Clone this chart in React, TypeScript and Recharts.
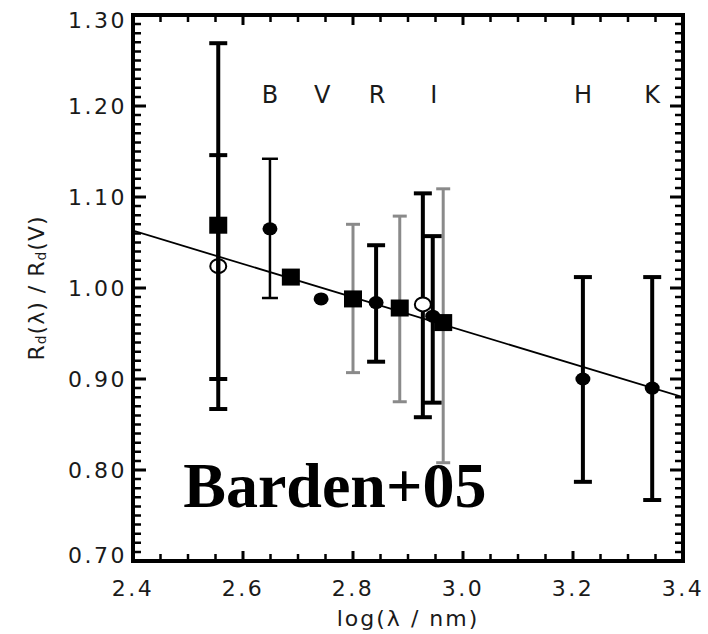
import React from 'react';
import { ComposedChart, Scatter, XAxis, YAxis, ErrorBar, ReferenceLine } from 'recharts';

// ---- data ------------------------------------------------------------------

// filled squares
const squareX = [2.555, 2.687, 2.8, 2.885, 2.964];
const squareY = [1.069, 1.012, 0.988, 0.978, 0.962];
const squareLo = [0.867, null, 0.907, 0.875, 0.808];
const squareHi = [1.269, null, 1.07, 1.079, 1.109];
const squareBar = ['black', 'none', 'gray', 'gray', 'gray'];

// filled circles
const dotX = [2.649, 2.742, 2.842, 2.945, 3.218, 3.344];
const dotY = [1.065, 0.988, 0.984, 0.969, 0.9, 0.89];
const dotLo = [0.989, null, 0.919, 0.874, 0.787, 0.767];
const dotHi = [1.142, null, 1.047, 1.057, 1.012, 1.012];
const dotBar = ['thin', 'none', 'black', 'black', 'black', 'black'];

// open circles
const openX = [2.555, 2.927];
const openY = [1.024, 0.982];
const openLo = [0.9, 0.858];
const openHi = [1.146, 1.104];

// linear fit
const fitX = [2.4, 3.4];
const fitY = [1.063, 0.88];

// photometric band names
const bandNames = ['B', 'V', 'R', 'I', 'H', 'K'];
const bandX = [2.649, 2.744, 2.844, 2.947, 3.218, 3.344];
const bandLabelY = 1.212;

const xMajorTicks = [2.4, 2.6, 2.8, 3.0, 3.2, 3.4];
const yMajorTicks = [0.7, 0.8, 0.9, 1.0, 1.1, 1.2, 1.3];
const xMinorTicks = Array.from({ length: 21 }, (_, i) => +(2.4 + i * 0.05).toFixed(2));
const yMinorTicks = Array.from({ length: 61 }, (_, i) => +(0.7 + i * 0.01).toFixed(2));

const X_DOMAIN: [number, number] = [2.4, 3.4];
const Y_DOMAIN: [number, number] = [0.7, 1.3];

const FONT = '"DejaVu Sans", Arial, sans-serif';
const INK = '#1a1a1a';

// ---- helpers ----------------------------------------------------------------

const err = (y: number, lo: number | null, hi: number | null) =>
  lo == null || hi == null ? undefined : [+(y - lo).toFixed(3), +(hi - y).toFixed(3)];

const squareData = squareX.map((x, i) => ({
  x,
  y: squareY[i],
  errBlack: squareBar[i] === 'black' ? err(squareY[i], squareLo[i], squareHi[i]) : undefined,
  errGray: squareBar[i] === 'gray' ? err(squareY[i], squareLo[i], squareHi[i]) : undefined,
}));

const dotData = dotX.map((x, i) => ({
  x,
  y: dotY[i],
  errBlack: dotBar[i] === 'black' ? err(dotY[i], dotLo[i], dotHi[i]) : undefined,
  errThin: dotBar[i] === 'thin' ? err(dotY[i], dotLo[i], dotHi[i]) : undefined,
}));

const openData = openX.map((x, i) => ({
  x,
  y: openY[i],
  errBlack: err(openY[i], openLo[i], openHi[i]),
}));
// the first open circle sits under the square's bar, so it is drawn hollow
const openBehind = openData.slice(0, 1);
const openFront = openData.slice(1);

const fitData = fitX.map((x, i) => ({ x, y: fitY[i] }));
const bandData = bandNames.map((name, i) => ({ x: bandX[i], y: bandLabelY, name }));
const tagData = [{ x: 2.767, y: 0.759, name: 'Barden+05' }];

// one anchor point per tick along the bottom and left edges
const xTickAnchors = xMinorTicks.map((x) => ({ x, y: Y_DOMAIN[0], major: xMajorTicks.some((m) => Math.abs(m - x) < 1e-6) }));
const yTickAnchors = yMinorTicks.map((y) => ({ x: X_DOMAIN[0], y, major: yMajorTicks.some((m) => Math.abs(m - y) < 1e-6) }));

// plot size in px (fixed by the margins) so a bottom tick can be mirrored on top
const PLOT_W = 550;
const PLOT_H = 546;

// ---- shapes -----------------------------------------------------------------

// tick on the bottom edge plus its twin on the top edge, as one filled path
function XTickPair(props: any) {
  const { cx, cy, payload } = props;
  const len = payload.major ? 10 : 7;
  const hw = payload.major ? 1.5 : 1.25;
  const top = cy - PLOT_H;
  const d =
    `M${cx - hw},${cy}h${2 * hw}v${-len}h${-2 * hw}Z` +
    `M${cx - hw},${top}h${2 * hw}v${len}h${-2 * hw}Z`;
  return <path d={d} fill="#000" />;
}

// tick on the left edge plus its twin on the right edge
function YTickPair(props: any) {
  const { cx, cy, payload } = props;
  const len = payload.major ? 13 : 8;
  const hw = payload.major ? 1.5 : 1.25;
  const right = cx + PLOT_W;
  const d =
    `M${cx},${cy - hw}h${len}v${2 * hw}h${-len}Z` +
    `M${right},${cy - hw}h${-len}v${2 * hw}h${len}Z`;
  return <path d={d} fill="#000" />;
}

function SquareShape(props: any) {
  const { cx, cy } = props;
  return <rect x={cx - 9} y={cy - 8.5} width={18} height={17} fill="#000" />;
}

function DotShape(props: any) {
  const { cx, cy } = props;
  return <ellipse cx={cx} cy={cy} rx={7.5} ry={6.5} fill="#000" />;
}

function OpenShape(props: any) {
  const { cx, cy } = props;
  return <ellipse cx={cx} cy={cy} rx={8} ry={7} fill="#fff" stroke="#000" strokeWidth={2} />;
}

function HollowShape(props: any) {
  const { cx, cy } = props;
  return <ellipse cx={cx} cy={cy} rx={8} ry={7} fill="none" stroke="#000" strokeWidth={2} />;
}

function NoShape() {
  return <g />;
}

function BandLabel(props: any) {
  const { cx, cy, payload } = props;
  return (
    <text x={cx} y={cy} textAnchor="middle" dominantBaseline="central"
      fontFamily={FONT} fontSize={24} fill={INK}>
      {payload.name}
    </text>
  );
}

function TagLabel(props: any) {
  const { cx, cy, payload } = props;
  return (
    <text x={cx} y={cy} textAnchor="middle" fontFamily='"Liberation Serif", "Times New Roman", serif'
      fontWeight="bold" fontSize={64} fill="#000">
      {payload.name}
    </text>
  );
}

function YTick(props: any) {
  const { x, y, payload } = props;
  const v = payload.value;
  const nudge = v >= 1.3 ? 5 : v <= 0.7 ? -6 : 0;
  return (
    <text x={x} y={y + nudge} textAnchor="end" dominantBaseline="central"
      fontFamily={FONT} fontSize={22} fill={INK} letterSpacing={2.5}>
      {v.toFixed(2)}
    </text>
  );
}

function XTitle(props: any) {
  const vb = props.viewBox || { x: 133, y: 561, width: 550, height: 60 };
  const cx = vb.x + vb.width / 2;
  const cy = vb.y + 57;
  return (
    <text x={cx} y={cy} textAnchor="middle" dominantBaseline="central"
      fontFamily={FONT} fontSize={22} fill={INK} letterSpacing={2}>
      log(λ / nm)
    </text>
  );
}

function YTitle(props: any) {
  const vb = props.viewBox || { x: 0, y: 15, width: 133, height: 546 };
  const cx = vb.x + 36;
  const cy = vb.y + vb.height / 2;
  return (
    <text x={cx} y={cy} transform={`rotate(-90 ${cx} ${cy})`} textAnchor="middle"
      dominantBaseline="central" fontFamily={FONT} fontSize={22} fill={INK} letterSpacing={1}>
      R<tspan fontSize={14} dy={5}>d</tspan>
      <tspan dy={-5}>(λ) / R</tspan>
      <tspan fontSize={14} dy={5}>d</tspan>
      <tspan dy={-5}>(V)</tspan>
    </text>
  );
}

export default function App() {
  return (
    <div style={{ position: 'absolute', left: 0, top: 0, width: 708, height: 634, background: '#fff' }}>
      <ComposedChart width={708} height={634} margin={{ top: 15, right: 25, bottom: 13, left: 0 }}>
        <XAxis xAxisId="x" dataKey="x" type="number" domain={X_DOMAIN} allowDataOverflow
          ticks={xMajorTicks} interval={0} tickFormatter={(v: number) => v.toFixed(1)}
          axisLine={false} tickLine={false} tickSize={0} tickMargin={19} height={60}
          tick={{ fontFamily: FONT, fontSize: 22, fill: INK, letterSpacing: 2.5 }}
          label={{ content: XTitle }} />
        <YAxis yAxisId="y" dataKey="y" type="number" domain={Y_DOMAIN} allowDataOverflow
          ticks={yMajorTicks} interval={0} axisLine={false} tickLine={false}
          tickSize={0} tickMargin={6} width={133} tick={<YTick />}
          label={{ content: YTitle }} />

        {/* frame */}
        <ReferenceLine xAxisId="x" yAxisId="y" y={Y_DOMAIN[0]} stroke="#000" strokeWidth={4} strokeLinecap="square" ifOverflow="visible" />
        <ReferenceLine xAxisId="x" yAxisId="y" y={Y_DOMAIN[1]} stroke="#000" strokeWidth={4} strokeLinecap="square" ifOverflow="visible" />
        <ReferenceLine xAxisId="x" yAxisId="y" x={X_DOMAIN[0]} stroke="#000" strokeWidth={4} strokeLinecap="square" ifOverflow="visible" />
        <ReferenceLine xAxisId="x" yAxisId="y" x={X_DOMAIN[1]} stroke="#000" strokeWidth={4} strokeLinecap="square" ifOverflow="visible" />

        {/* inward ticks on all four sides */}
        <Scatter xAxisId="x" yAxisId="y" data={xTickAnchors} dataKey="y" shape={XTickPair} isAnimationActive={false} />
        <Scatter xAxisId="x" yAxisId="y" data={yTickAnchors} dataKey="y" shape={YTickPair} isAnimationActive={false} />

        {/* fit line */}
        <Scatter xAxisId="x" yAxisId="y" data={fitData} dataKey="y" shape={NoShape}
          line={{ stroke: '#000', strokeWidth: 1.8 }} lineType="joint" isAnimationActive={false} />

        {/* filled circles */}
        <Scatter xAxisId="x" yAxisId="y" data={dotData} dataKey="y" shape={DotShape} isAnimationActive={false}>
          <ErrorBar dataKey="errBlack" direction="y" width={9} stroke="#000" strokeWidth={4} isAnimationActive={false} />
          <ErrorBar dataKey="errThin" direction="y" width={8} stroke="#000" strokeWidth={2.5} isAnimationActive={false} />
        </Scatter>

        {/* open circles */}
        <Scatter xAxisId="x" yAxisId="y" data={openBehind} dataKey="y" shape={HollowShape} isAnimationActive={false}>
          <ErrorBar dataKey="errBlack" direction="y" width={9} stroke="#000" strokeWidth={4} isAnimationActive={false} />
        </Scatter>
        <Scatter xAxisId="x" yAxisId="y" data={openFront} dataKey="y" shape={OpenShape} isAnimationActive={false}>
          <ErrorBar dataKey="errBlack" direction="y" width={9} stroke="#000" strokeWidth={4} isAnimationActive={false} />
        </Scatter>

        {/* filled squares */}
        <Scatter xAxisId="x" yAxisId="y" data={squareData} dataKey="y" shape={SquareShape} isAnimationActive={false}>
          <ErrorBar dataKey="errGray" direction="y" width={7} stroke="#8a8a8a" strokeWidth={3} isAnimationActive={false} />
          <ErrorBar dataKey="errBlack" direction="y" width={9} stroke="#000" strokeWidth={4} isAnimationActive={false} />
        </Scatter>

        {/* annotations */}
        <Scatter xAxisId="x" yAxisId="y" data={bandData} dataKey="y" shape={BandLabel} isAnimationActive={false} />
        <Scatter xAxisId="x" yAxisId="y" data={tagData} dataKey="y" shape={TagLabel} isAnimationActive={false} />
      </ComposedChart>
    </div>
  );
}
